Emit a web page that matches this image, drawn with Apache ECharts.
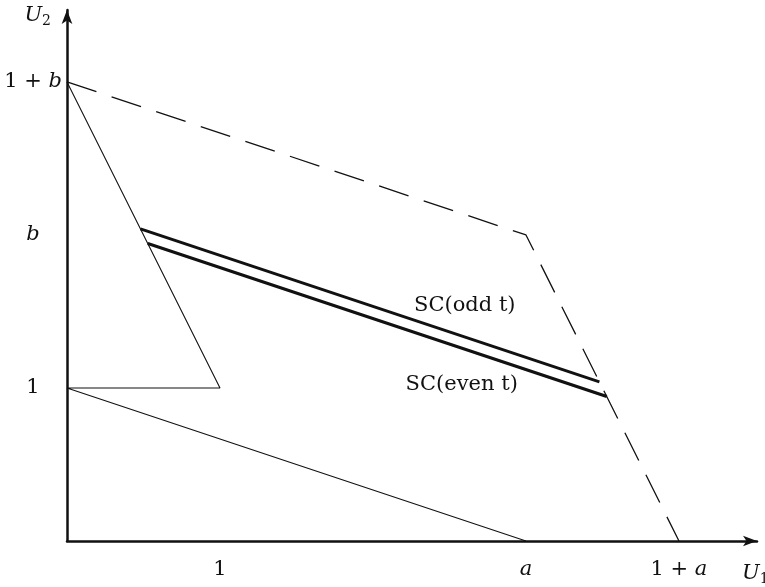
<!DOCTYPE html>
<html>
<head>
<meta charset="utf-8">
<script src="https://cdn.jsdelivr.net/npm/echarts@6/dist/echarts.min.js"></script>
<style>
  html, body { margin: 0; padding: 0; background: #fff; }
  #chart { width: 765px; height: 587px; }
</style>
</head>
<body>
<div id="chart"></div>
<script>
// Payoff-space sketch with a = 3, b = 2.
const xTickValues = [1, 3, 4];
const xTickLabels = ['1', '{i|a}', '1 + {i|a}'];
const yTickValues = [1, 2, 3];
const yTickLabels = ['1', '{i|b}', '1 + {i|b}'];

// Dashed outer boundary: (0, 1+b) -> (a, b) -> (1+a, 0)
const frontier = [[0, 3], [3, 2], [4, 0]];
// Thin polyline: (0, 1+b) -> (1, 1) -> (0, 1) -> (a, 0)
const thinPath = [[0, 3], [1, 1], [0, 1], [3, 0]];
// Thick segments
const scOdd = [[0.48, 2.04], [3.48, 1.04]];
const scEven = [[0.528, 1.944], [3.528, 0.944]];
const curveNames = ['SC(odd t)', 'SC(even t)'];
const curveNameAnchors = [[2.6, 1.54], [2.58, 1.02]];

const SERIF = 'DejaVu Serif';
const INK = '#111';
const italicRich = { i: { fontFamily: SERIF, fontStyle: 'italic', fontSize: 21, color: INK } };

const chart = echarts.init(document.getElementById('chart'), null, { renderer: 'canvas' });

const axisCommon = {
  type: 'value',
  axisLine: { show: true, onZero: false, lineStyle: { color: INK, width: 2.5 }, symbol: ['none', 'arrow'], symbolSize: [8, 14] },
  axisTick: { show: false },
  splitLine: { show: false }
};

chart.setOption({
  animation: false,
  backgroundColor: '#fff',
  grid: { left: 67, right: 8, top: 10, bottom: 46, containLabel: false, outerBoundsMode: 'none' },
  xAxis: Object.assign({}, axisCommon, {
    min: 0, max: 4.51,
    name: '{i|U}{s|1}',
    nameLocation: 'end',
    nameGap: -15,
    nameTextStyle: {
      align: 'left', verticalAlign: 'top', padding: [21, 0, 0, 0],
      rich: { i: { fontFamily: SERIF, fontStyle: 'italic', fontSize: 21, color: INK },
              s: { fontFamily: SERIF, fontSize: 14, color: INK, padding: [10, 0, 0, 0] } }
    },
    axisLabel: {
      customValues: xTickValues,
      margin: 18,
      fontFamily: SERIF, fontSize: 21, color: INK,
      formatter: v => xTickLabels[xTickValues.indexOf(v)],
      rich: italicRich
    }
  }),
  yAxis: Object.assign({}, axisCommon, {
    min: 0, max: 3.47,
    name: '{i|U}{s|2}',
    nameLocation: 'end',
    nameGap: -6,
    nameTextStyle: {
      align: 'right', verticalAlign: 'middle', padding: [0, 16, 0, 0],
      rich: { i: { fontFamily: SERIF, fontStyle: 'italic', fontSize: 21, color: INK },
              s: { fontFamily: SERIF, fontSize: 14, color: INK, padding: [10, 0, 0, 0] } }
    },
    axisLabel: {
      customValues: yTickValues,
      margin: 34,
      align: 'center',
      fontFamily: SERIF, fontSize: 21, color: INK,
      formatter: v => yTickLabels[yTickValues.indexOf(v)],
      rich: italicRich
    }
  }),
  series: [
    {
      type: 'line', data: frontier, symbol: 'none', silent: true,
      lineStyle: { color: INK, width: 1.3, type: [31, 16] }
    },
    {
      type: 'line', data: thinPath, symbol: 'none', silent: true,
      lineStyle: { color: INK, width: 1.1 }
    },
    {
      type: 'line', data: scOdd, symbol: 'none', silent: true,
      lineStyle: { color: INK, width: 3 }
    },
    {
      type: 'line', data: scEven, symbol: 'none', silent: true,
      lineStyle: { color: INK, width: 3 }
    },
    {
      type: 'scatter', symbolSize: 0, silent: true,
      itemStyle: { opacity: 1, color: INK },
      data: curveNames.map((n, k) => ({ name: n, value: curveNameAnchors[k] })),
      label: {
        show: true, position: 'inside', formatter: '{b}',
        fontFamily: SERIF, fontSize: 21, color: INK, opacity: 1
      }
    }
  ]
});
</script>
</body>
</html>
